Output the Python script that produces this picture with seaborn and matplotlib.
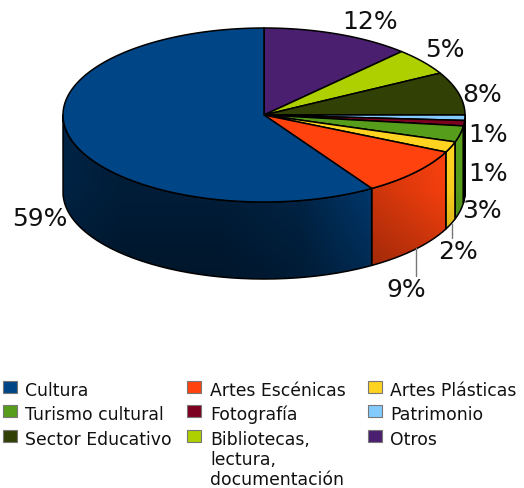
import numpy as np
import matplotlib
matplotlib.use("Agg")
import matplotlib.pyplot as plt
from matplotlib.path import Path
from matplotlib.patches import PathPatch, Rectangle
import seaborn as sns

# ---- data
categories = ["Otros", "Bibliotecas,\nlectura,\ndocumentación", "Sector Educativo", "Patrimonio",
              "Fotografía", "Turismo cultural", "Artes Plásticas", "Artes Escénicas", "Cultura"]
shares = [12, 5, 8, 1, 1, 3, 2, 9, 59]
colors = ["#4b1f6f", "#aecf00", "#314004", "#83caff", "#7e0021", "#579d1c", "#ffd320", "#ff420e", "#004586"]
legend_order = ["Cultura", "Artes Escénicas", "Artes Plásticas",
                "Turismo cultural", "Fotografía", "Patrimonio",
                "Sector Educativo", "Bibliotecas,\nlectura,\ndocumentación", "Otros"]

# ---- layout
W, H = 524, 488
CX, CY, RX, RY, DEPTH = 264, 115, 201, 87, 77
label_xy = [(370, 22), (445, 50), (482, 95), (488, 135), (488, 174),
            (482, 211), (458, 252), (406, 290), (40, 219)]
leaders = [(452, 224, 238), (416, 248, 276)]
col_sw = [3, 187, 368]
col_tx = [25, 210, 390]
row_y = [387, 411, 436]
FS_LABEL, FS_LEG = 18, 12.4
FONT = "DejaVu Sans"

sns.set_theme(style="white")
plt.rcParams["font.family"] = [FONT]
palette = sns.color_palette(colors)
colour_of = dict(zip(categories, palette))

fig = plt.figure(figsize=(W / 100, H / 100), dpi=100)
ax = fig.add_axes([0, 0, 1, 1])
ax.axis("off")


def pt(t, dy=0):
    """t is the clockwise parameter from 12 o'clock, in radians."""
    return CX + RX * np.sin(t), CY - RY * np.cos(t) + dy


cum = np.concatenate([[0], np.cumsum(shares)]) / np.sum(shares) * 2 * np.pi
yy, xx = np.mgrid[0:H, 0:W]
shade = (np.interp(xx, [63, 120, 220, 300, 372, 465], [0.5, 0.42, 0.42, 0.52, 0.8, 1.0])
         * np.interp(yy, [115, 190, 270], [1.05, 1.0, 0.78]))

# side wall, from the two ends of the front half toward the middle
for i in np.argsort([-abs(np.pi - (a + b) / 2) for a, b in zip(cum[:-1], cum[1:])]):
    a, b = max(cum[i], np.pi / 2), min(cum[i + 1], 3 * np.pi / 2)
    if b <= a:
        continue
    ts = np.linspace(a, b, 80)
    x, y = pt(ts)
    verts = np.c_[np.r_[x, x[::-1]], np.r_[y, y[::-1] + DEPTH]]
    verts = np.r_[verts, verts[:1]]
    patch = PathPatch(Path(verts), fc="none", ec="none")
    ax.add_patch(patch)
    img = np.clip(np.array(palette[i])[None, None, :] * shade[..., None], 0, 1)
    im = ax.imshow(img, extent=(0, W, H, 0), aspect="auto", interpolation="nearest", zorder=1)
    im.set_clip_path(patch)
    ax.plot(verts[:, 0], verts[:, 1], color="black", lw=1.1, zorder=2)
ax.set_xlim(0, W)
ax.set_ylim(H, 0)

# top face
for i in range(len(shares)):
    ts = np.linspace(cum[i], cum[i + 1], 120)
    x, y = pt(ts)
    ax.fill(np.r_[CX, x], np.r_[CY, y], facecolor=palette[i], edgecolor="black", lw=1.1, zorder=3)

# value labels
for i, (lx, ly) in enumerate(label_xy):
    ax.text(lx, ly, f"{shares[i]}%", ha="center", va="center", fontsize=FS_LABEL,
            color="#111111", zorder=5)
for x0, y0, y1 in leaders:
    ax.plot([x0, x0], [y0, y1], color="#777777", lw=1, zorder=4)

# legend
for k, name in enumerate(legend_order):
    r, c = divmod(k, 3)
    ax.add_patch(Rectangle((col_sw[c], row_y[r] - 6), 14, 12, fc=colour_of[name], ec="#777777",
                           lw=0.8, zorder=4))
    ax.text(col_tx[c], row_y[r] - 5, name, ha="left", va="top", fontsize=FS_LEG,
            color="#111111", linespacing=1.16)

fig.savefig("out.png", dpi=100)
